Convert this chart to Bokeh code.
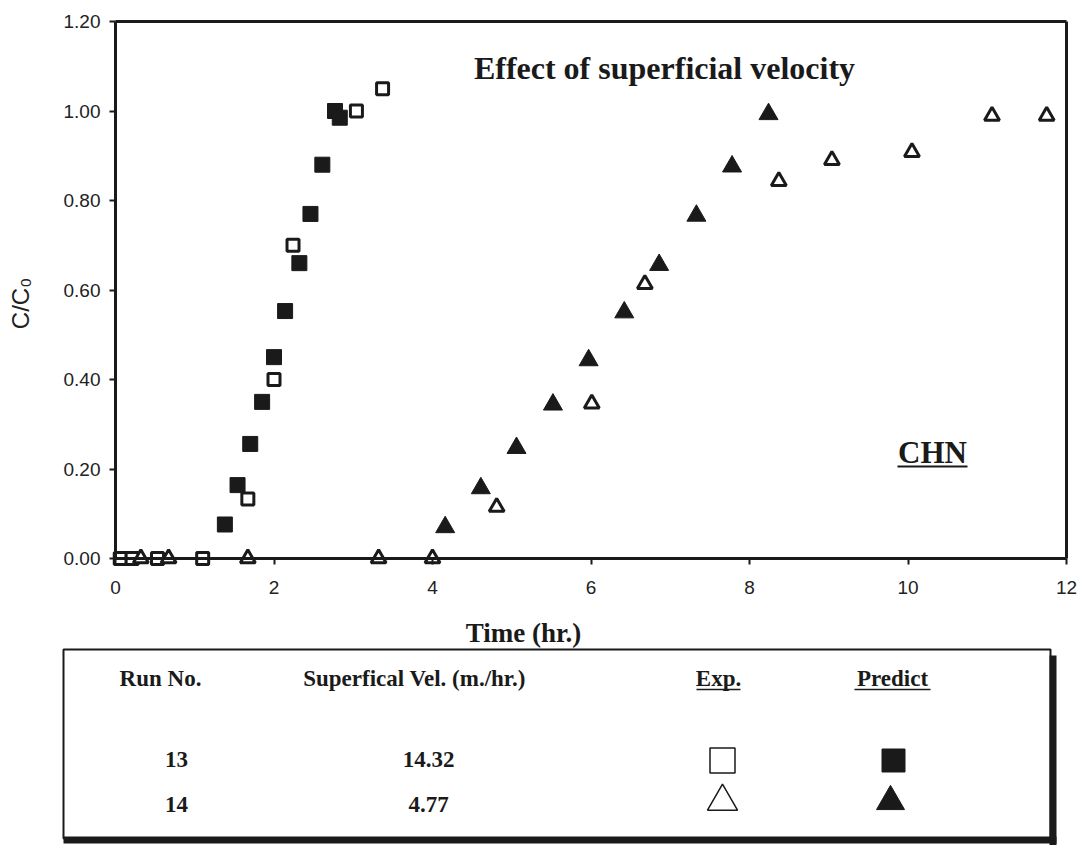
import math
from bokeh.plotting import figure
from bokeh.models import Range1d, FixedTicker, NumeralTickFormatter
from bokeh.core.properties import value
from bokeh.embed import file_html
from bokeh.resources import INLINE

# ---------------- data ----------------
run13_exp_t = [0.06, 0.21, 0.53, 1.10, 1.67, 2.00, 2.24, 3.04, 3.37]
run13_exp_c = [0.00, 0.00, 0.00, 0.00, 0.133, 0.40, 0.70, 1.00, 1.05]
run13_pred_t = [1.38, 1.54, 1.70, 1.85, 2.00, 2.14, 2.32, 2.46, 2.61, 2.77, 2.83]
run13_pred_c = [0.076, 0.164, 0.256, 0.35, 0.45, 0.553, 0.66, 0.77, 0.88, 1.00, 0.985]
run14_exp_t = [0.32, 0.67, 1.67, 3.32, 4.00, 4.81, 6.01, 6.68, 8.37, 9.04, 10.05, 11.06, 11.75]
run14_exp_c = [0.00, 0.00, 0.00, 0.00, 0.00, 0.115, 0.346, 0.613, 0.843, 0.89, 0.908, 0.989, 0.989]
run14_pred_t = [4.16, 4.61, 5.06, 5.52, 5.97, 6.42, 6.86, 7.33, 7.78, 8.24]
run14_pred_c = [0.07, 0.157, 0.247, 0.344, 0.443, 0.55, 0.656, 0.766, 0.876, 0.993]

x_ticks = [0, 2, 4, 6, 8, 10, 12]
y_ticks = [0.0, 0.2, 0.4, 0.6, 0.8, 1.0, 1.2]
x_max = 12
y_max = 1.2

title_text = "Effect of superficial velocity"
tag_text = "CHN"
x_label = "Time (hr.)"
y_label = "C/C\u2080"

legend_headers = ["Run No.", "Superfical Vel. (m./hr.)", "Exp.", "Predict"]
legend_runs = ["13", "14"]
legend_vels = ["14.32", "4.77"]

INK = "#1a1a1a"
SERIF = "Liberation Serif"
SANS = "Liberation Sans"

# ---------------- page geometry (pixels) ----------------
W, H = 1087, 845
X0_PX, X12_PX = 115, 1066      # where time 0 and 12 sit
Y0_PX, Y12_PX = 558, 21        # where C/C0 0.00 and 1.20 sit
PX_PER_X = (X12_PX - X0_PX) / x_max
PX_PER_Y = (Y0_PX - Y12_PX) / y_max


def fx(px):
    return (px - X0_PX) / PX_PER_X


def fy(py):
    return (Y0_PX - py) / PX_PER_Y


p = figure(width=W, height=H, x_range=Range1d(fx(0), fx(W)), y_range=Range1d(fy(H), fy(0)),
           output_backend="svg", toolbar_location=None, min_border=0)
p.background_fill_color = "white"
p.border_fill_color = "white"
p.grid.visible = False
p.outline_line_color = None

for ax in (p.xaxis[0], p.yaxis[0]):
    ax.fixed_location = 0
    ax.axis_line_color = INK
    ax.axis_line_width = 3
    ax.major_tick_line_color = INK
    ax.major_tick_line_width = 2
    ax.major_tick_in = 0
    ax.major_tick_out = 6
    ax.minor_tick_line_color = None
    ax.major_label_text_font = SANS
    ax.major_label_text_font_size = "19px"
    ax.major_label_text_color = "#222222"

p.xaxis.bounds = (0, x_max)
p.yaxis.bounds = (0, y_max)
p.xaxis.ticker = FixedTicker(ticks=x_ticks)
p.yaxis.ticker = FixedTicker(ticks=y_ticks)
p.yaxis.formatter = NumeralTickFormatter(format="0.00")
p.xaxis.major_label_standoff = 16
p.yaxis.major_label_standoff = 9

# top and right frame lines
p.segment(x0=[0, x_max], y0=[y_max, 0], x1=[x_max, x_max], y1=[y_max, y_max], line_color=INK, line_width=3)

# series
p.scatter(run13_pred_t, run13_pred_c, marker="square", size=15, fill_color=INK, line_color=INK, line_width=1)
p.scatter(run13_exp_t, run13_exp_c, marker="square", size=12, fill_color="white", line_color=INK, line_width=3)
p.scatter(run14_pred_t, run14_pred_c, marker="triangle", size=19, fill_color=INK, line_color=INK, line_width=1)
p.scatter(run14_exp_t, run14_exp_c, marker="triangle", size=15, fill_color="white", line_color=INK, line_width=3)


def txt(px, py, s, size, font=SERIF, style="bold", align="center", angle=0.0, color=INK):
    p.text(x=[fx(px)], y=[fy(py)], text=[s], text_align=align, text_baseline="middle", angle=angle,
           text_font=value(font), text_font_style=style, text_font_size=f"{size}px", text_color=color)


def hline(px0, px1, py, w):
    p.segment(x0=[fx(px0)], y0=[fy(py)], x1=[fx(px1)], y1=[fy(py)], line_color=INK, line_width=w)


# in-plot and axis texts
txt(664, 67, title_text, 32)
txt(932, 452, tag_text, 31)
hline(897, 967, 466, 2)
txt(523, 632, x_label, 27)
txt(20, 303, y_label, 24, font=SANS, style="normal", angle=math.pi / 2, color="#222222")

# ---------------- legend table ----------------
BOX_L, BOX_R, BOX_T, BOX_B = 63, 1050, 649, 838
# shadow (right and bottom) and box
p.quad(left=[fx(BOX_R - 1)], right=[fx(BOX_R + 6)], top=[fy(BOX_T + 6)], bottom=[fy(845)],
       fill_color=INK, line_color=None)
p.quad(left=[fx(BOX_L)], right=[fx(BOX_R + 6)], top=[fy(BOX_B - 2)], bottom=[fy(BOX_B + 5)],
       fill_color=INK, line_color=None)
p.quad(left=[fx(BOX_L)], right=[fx(BOX_R)], top=[fy(BOX_T)], bottom=[fy(BOX_B)], fill_color=None,
       line_color=INK, line_width=2)

hdr_px = [160, 414, 718, 892]
for hx, h in zip(hdr_px, legend_headers):
    txt(hx, 678, h, 23)
hline(718 - 22, 718 + 22, 689, 1.5)
hline(892 - 38, 892 + 38, 689, 1.5)

row_py = [759, 804]
for ry, r, v in zip(row_py, legend_runs, legend_vels):
    txt(176, ry, r, 23)
    txt(428, ry, v, 23)

p.scatter([fx(722)], [fy(760)], marker="square", size=25, fill_color="white", line_color=INK, line_width=1.5)
p.scatter([fx(893)], [fy(760)], marker="square", size=23, fill_color=INK, line_color=INK, line_width=1)
p.scatter([fx(722)], [fy(801)], marker="triangle", size=30, fill_color="white", line_color=INK, line_width=1.5)
p.scatter([fx(890)], [fy(801)], marker="triangle", size=28, fill_color=INK, line_color=INK, line_width=1)

open("out.html", "w").write(file_html(p, INLINE))
